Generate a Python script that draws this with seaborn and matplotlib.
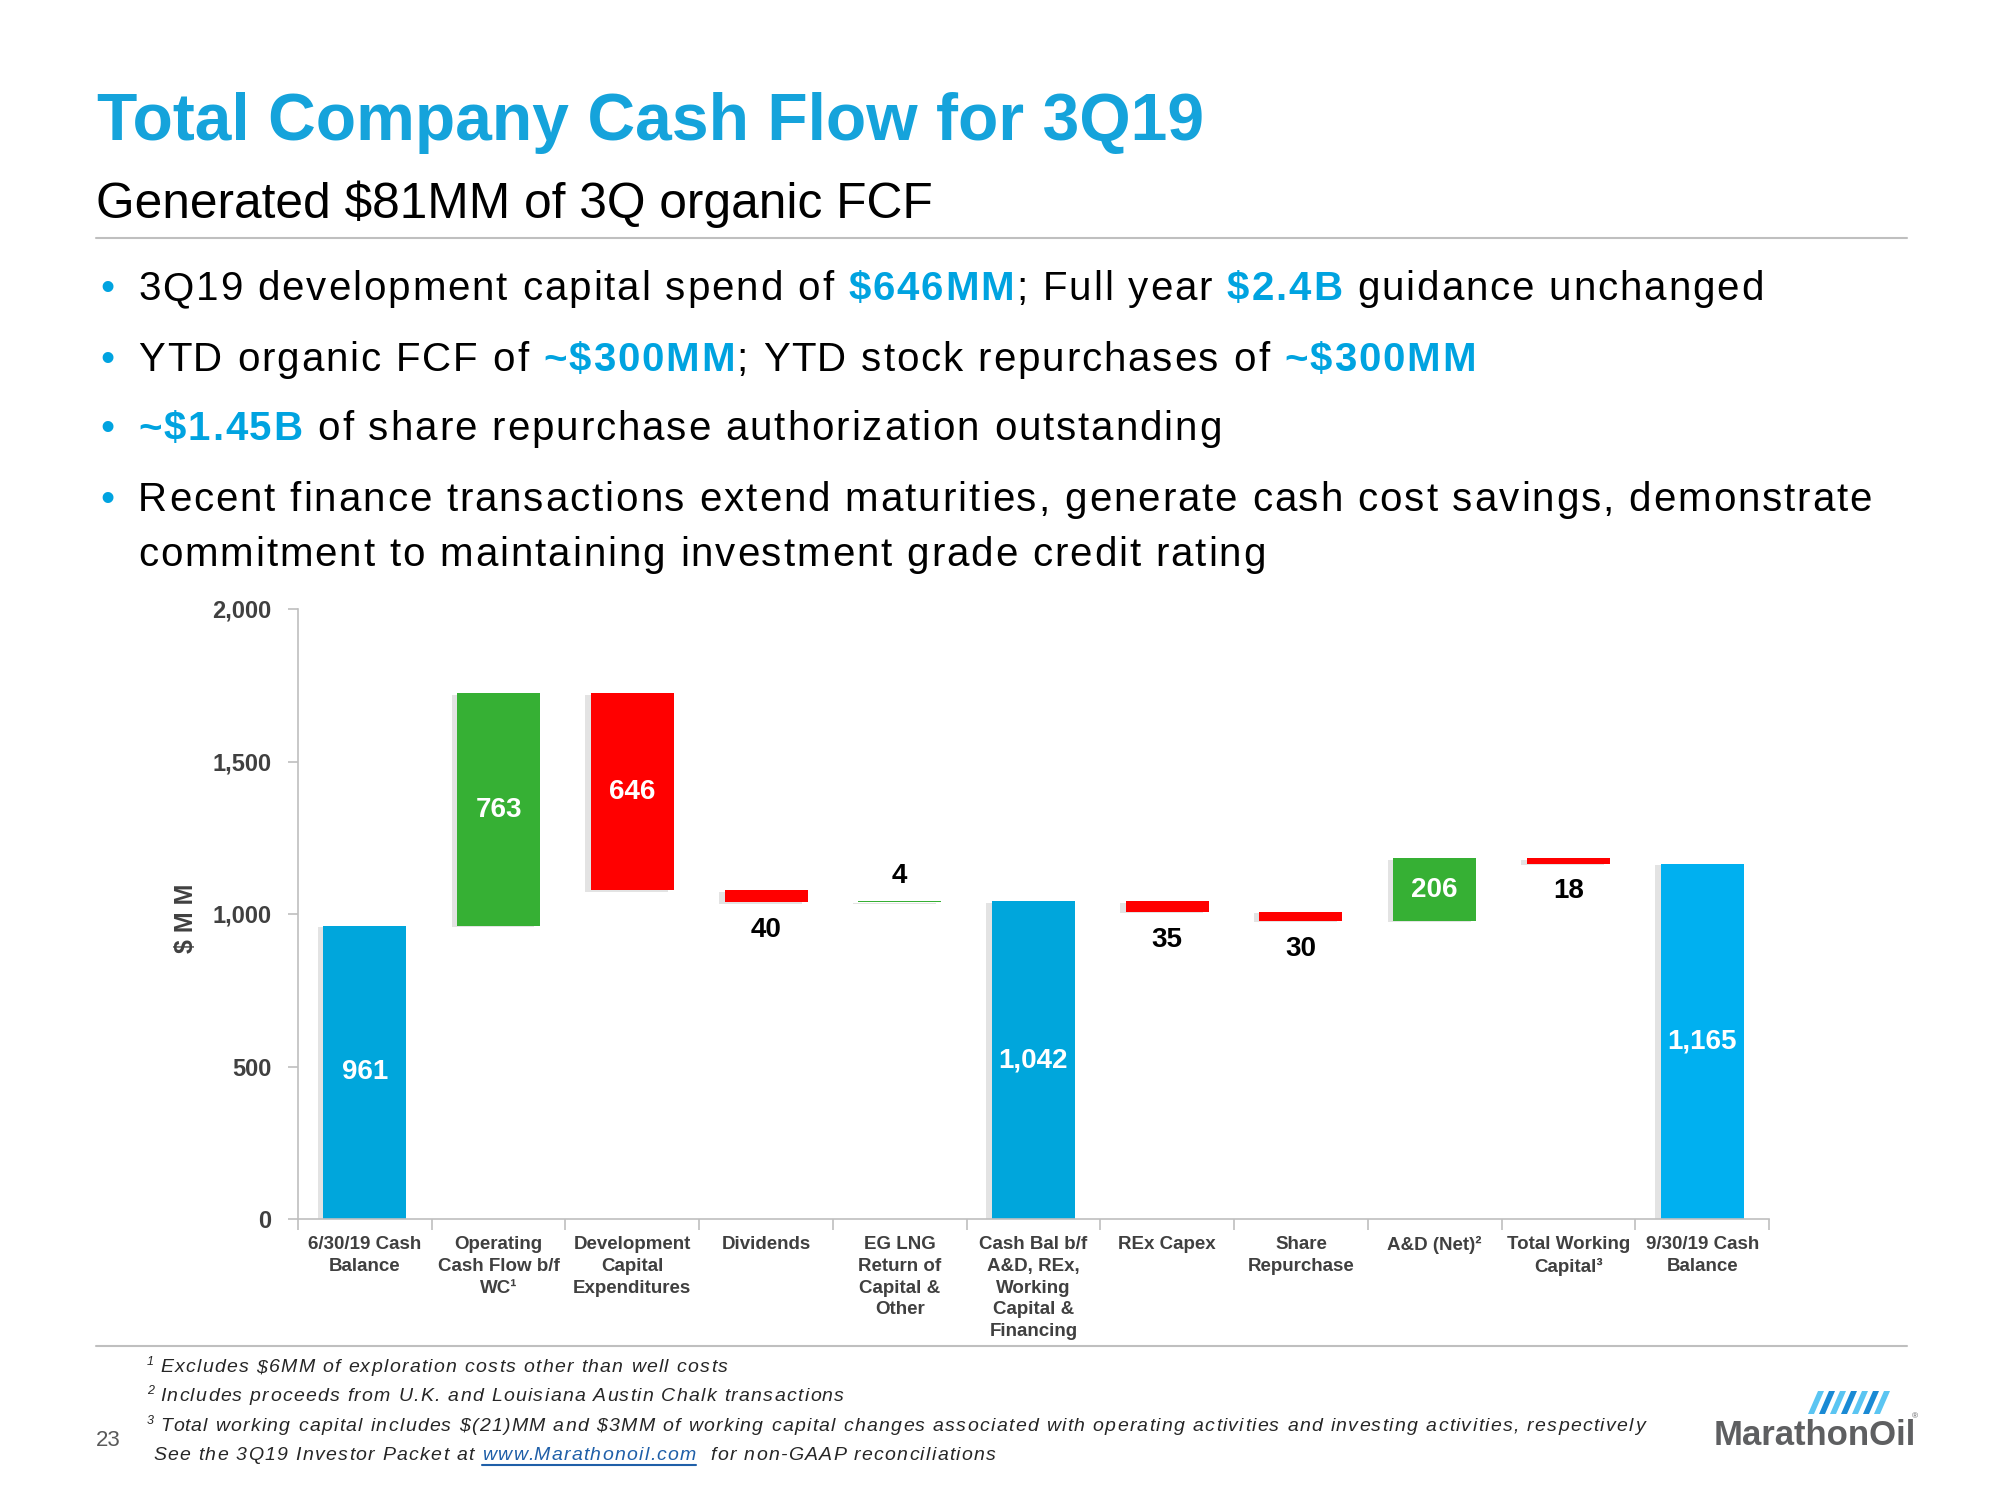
import matplotlib
matplotlib.use("Agg")
import matplotlib.pyplot as plt
import numpy as np
import seaborn as sns
from matplotlib import patheffects
from matplotlib.font_manager import FontProperties
from matplotlib.lines import Line2D
from matplotlib.patches import Polygon
from matplotlib.ticker import FixedLocator, StrMethodFormatter

# --- chart data ($MM) ---
categories = [
    "6/30/19 Cash\nBalance",
    "Operating\nCash Flow b/f\nWC\u00b9",
    "Development\nCapital\nExpenditures",
    "Dividends",
    "EG LNG\nReturn of\nCapital &\nOther",
    "Cash Bal b/f\nA&D, REx,\nWorking\nCapital &\nFinancing",
    "REx Capex",
    "Share\nRepurchase",
    "A&D (Net)\u00b2",
    "Total Working\nCapital\u00b3",
    "9/30/19 Cash\nBalance",
]
values = [961, 763, -646, -40, 4, 1042, -35, -30, 206, -18, 1165]
is_total = [True, False, False, False, False, True, False, False, False, False, True]
value_labels = ["961", "763", "646", "40", "4", "1,042", "35", "30", "206", "18", "1,165"]
y_ticks = [0, 500, 1000, 1500, 2000]

# --- styles ---
W, H = 2000, 1500
FONTS = ["Liberation Sans", "DejaVu Sans"]
BLUE_TITLE = "#15A3DB"
BLUE_HI = "#00A3E0"
BLUE_BAR = "#00A6DC"
BLUE_END = "#00B0F0"
GREEN = "#36B034"
RED = "#FF0000"
DARK = "#404040"
NOTE = "#262626"
RULE = "#BFBFBF"

sns.set_theme(style="ticks")
plt.rcParams["font.family"] = FONTS

fig = plt.figure(figsize=(20, 15), dpi=100)
renderer = fig.canvas.get_renderer()


def px(x, y):
    return x / W, 1 - y / H


def text_w(s, size, weight="normal", style="normal"):
    fp = FontProperties(family=FONTS, size=size, weight=weight, style=style)
    w1 = renderer.get_text_width_height_descent("|" + s + "|", fp, ismath=False)[0]
    w0 = renderer.get_text_width_height_descent("||", fp, ismath=False)[0]
    return w1 - w0


def rich_line(x, y, parts, size, style="normal", track=0.0):
    """parts: (text, color, weight[, size, dy]) laid out on one baseline, with letter tracking"""
    spans = []
    for p in parts:
        txt, color, weight = p[:3]
        sz = p[3] if len(p) > 3 else size
        dy = p[4] if len(p) > 4 else 0
        start = x
        for i, ch in enumerate(txt):
            if ch != " ":
                cx = start + text_w(txt[:i], sz, weight, style) + i * track
                fig.text(*px(cx, y - dy), ch, color=color, fontsize=sz, fontweight=weight,
                         fontstyle=style, ha="left", va="baseline", parse_math=False)
        x = start + text_w(txt, sz, weight, style) + len(txt) * track
        spans.append((start, x - track))
    return spans


# --- header ---
fig.text(*px(97, 140), "Total Company Cash Flow for 3Q19", color=BLUE_TITLE,
         fontsize=47.5, fontweight="bold", va="baseline", parse_math=False)
fig.text(*px(96, 218), "Generated $81MM of 3Q organic FCF", color="black",
         fontsize=35.7, va="baseline", parse_math=False)
fig.add_artist(Line2D([96 / W, 1907 / W], [1 - 238 / H] * 2, color=RULE, lw=1.5))

bullets = [
    (300, [("3Q19 development capital spend of ", "black", "normal"),
           ("$646MM", BLUE_HI, "bold"),
           ("; Full year ", "black", "normal"),
           ("$2.4B", BLUE_HI, "bold"),
           (" guidance unchanged", "black", "normal")], True),
    (371, [("YTD organic FCF of ", "black", "normal"),
           ("~$300MM", BLUE_HI, "bold"),
           ("; YTD stock repurchases of ", "black", "normal"),
           ("~$300MM", BLUE_HI, "bold")], True),
    (440, [("~$1.45B", BLUE_HI, "bold"),
           (" of share repurchase authorization outstanding", "black", "normal")], True),
    (511, [("Recent finance transactions extend maturities, generate cash cost savings, demonstrate",
            "black", "normal")], True),
    (566, [("commitment to maintaining investment grade credit rating", "black", "normal")], False),
]
for y, parts, dot in bullets:
    if dot:
        fig.text(*px(100, y), "\u2022", color=BLUE_HI, fontsize=29, va="baseline")
    rich_line(138, y, parts, 29, track=1.9)

# --- waterfall ---
bottoms, heights, colors = [], [], []
running = 0
for v, tot in zip(values, is_total):
    if tot:
        bottoms.append(0)
        heights.append(v)
        running = v
        colors.append(BLUE_BAR)
    else:
        bottoms.append(min(running, running + v))
        heights.append(abs(v))
        running += v
        colors.append(GREEN if v > 0 else RED)
colors[-1] = BLUE_END

ax = fig.add_axes([298 / W, 1 - 1219 / H, 1471 / W, 610 / H])
sns.barplot(x=categories, y=heights, bottom=bottoms, color=BLUE_BAR, width=0.62,
            errorbar=None, saturation=1, ax=ax)
shadow = [patheffects.withSimplePatchShadow(offset=(-4, -1), shadow_rgbFace="#909090", alpha=0.25)]
for patch, c in zip(ax.patches, colors):
    patch.set_facecolor(c)
    patch.set_edgecolor(c)
    patch.set_linewidth(0)
    patch.set_path_effects(shadow)

for i, (b, h, v, lab) in enumerate(zip(bottoms, heights, values, value_labels)):
    if h >= 100:
        ax.text(i, b + h / 2, lab, color="white", fontsize=20, fontweight="bold",
                ha="center", va="center")
    elif v < 0:
        ax.annotate(lab, (i, b), xytext=(0, -20), textcoords="offset points", color="black",
                    fontsize=20, fontweight="bold", ha="center", va="center")
    else:
        ax.annotate(lab, (i, b + h), xytext=(0, 18), textcoords="offset points", color="black",
                    fontsize=20, fontweight="bold", ha="center", va="center")

ax.set_ylim(0, 2000)
ax.set_xlim(-0.5, len(categories) - 0.5)
ax.set_yticks(y_ticks)
ax.yaxis.set_major_formatter(StrMethodFormatter("{x:,.0f}"))
ax.xaxis.set_minor_locator(FixedLocator(np.arange(-0.5, len(categories), 1.0)))
sns.despine(ax=ax)
for side in ("left", "bottom"):
    ax.spines[side].set_color(RULE)
    ax.spines[side].set_linewidth(1.2)
ax.tick_params(axis="y", length=7, width=1.2, color=RULE, pad=12, labelsize=17, labelcolor=DARK)
ax.tick_params(axis="x", which="major", length=0, pad=12.5, labelsize=13.5, labelcolor=DARK)
ax.tick_params(axis="x", which="minor", length=8, width=1.2, color=RULE)
for lab in ax.get_yticklabels():
    lab.set_fontweight("bold")
for lab in ax.get_xticklabels():
    lab.set_fontweight("bold")
    lab.set_linespacing(1.36)
ax.set_xlabel("")
ax.set_ylabel("")
fig.text(*px(186, 918), "$ M M", rotation=90, color=DARK, fontsize=18, fontweight="bold",
         ha="center", va="center", parse_math=False)

# --- footer ---
fig.add_artist(Line2D([96 / W, 1907 / W], [1 - 1346 / H] * 2, color=RULE, lw=1.5))
notes = [
    (1372, [("1 ", NOTE, "normal", 9, 7),
            ("Excludes $6MM of exploration costs other than well costs", NOTE, "normal")]),
    (1401, [("2 ", NOTE, "normal", 9, 7),
            ("Includes proceeds from U.K. and Louisiana Austin Chalk transactions", NOTE, "normal")]),
    (1431, [("3 ", NOTE, "normal", 9, 7),
            ("Total working capital includes $(21)MM and $3MM of working capital changes associated "
             "with operating activities and investing activities, respectively", NOTE, "normal")]),
]
for y, parts in notes:
    rich_line(147, y, parts, 14, style="italic", track=1.3)
spans = rich_line(153, 1460, [("See the 3Q19 Investor Packet at ", NOTE, "normal"),
                              ("www.Marathonoil.com", "#1F5FA8", "normal"),
                              ("  for non-GAAP reconciliations", NOTE, "normal")],
                  14, style="italic", track=1.3)
x0, x1 = spans[1]
fig.add_artist(Line2D([x0 / W, x1 / W], [1 - 1465 / H] * 2, color="#1F5FA8", lw=1.5))

fig.text(*px(96, 1446), "23", color="#595959", fontsize=16, va="baseline")

# logo
fig.text(*px(1714, 1445), "MarathonOil", color="#5E5F61", fontsize=25, fontweight="bold",
         va="baseline")
fig.text(*px(1912, 1418), "\u00ae", color="#5E5F61", fontsize=6, va="baseline")
for k in range(7):
    xs = 1808 + k * 11
    fig.add_artist(Polygon([px(xs, 1414), px(xs + 6, 1414), px(xs + 16, 1391), px(xs + 10, 1391)],
                           closed=True, transform=fig.transFigure,
                           facecolor="#5BC5F2" if k % 2 == 0 else "#1A8AD4", edgecolor="none"))

fig.savefig("out.png", dpi=100)
